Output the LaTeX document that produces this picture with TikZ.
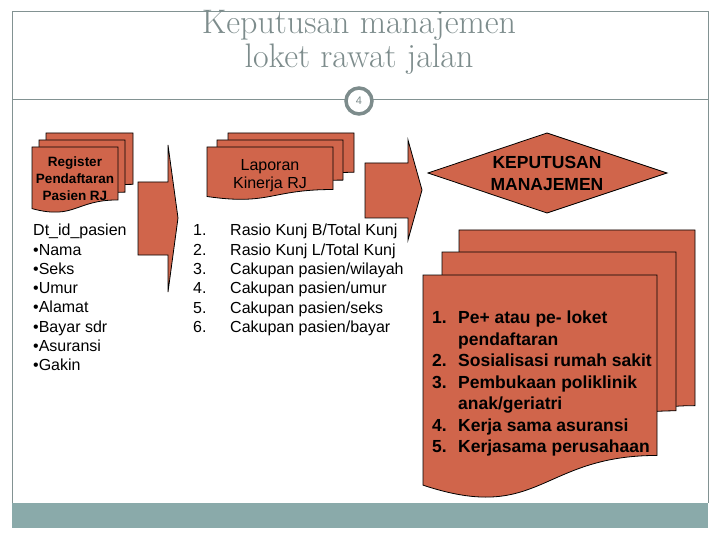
\documentclass[tikz,border=0pt]{standalone}
\usepackage{fontspec}
\setsansfont{Liberation Sans}
\usepackage{tikz}
\usetikzlibrary{arrows.meta}

\definecolor{docred}{RGB}{208,101,75}
\definecolor{titlegray}{RGB}{125,140,140}
\definecolor{framegray}{RGB}{130,146,146}
\definecolor{bargray}{RGB}{138,170,170}

% one page of a document shape: top left (#1,#2), width #3, height #4
\newcommand{\docpage}[4]{%
  \draw[docfill] (#1,#2) -- ({#1+#3},#2) -- ({#1+#3},{#2+0.802*#4})
    .. controls ({#1+0.5*#3},{#2+0.802*#4}) and ({#1+0.5*#3},{#2+1.107*#4}) .. ({#1},{#2+0.934*#4}) -- cycle;}

\tikzset{
  docfill/.style={fill=docred, draw=black, line width=0.8pt},
  blockarrow/.style={fill=docred, draw=black, line width=0.8pt, line join=miter},
  listtxt/.style={font=\sffamily\fontsize{16}{19}\selectfont, inner sep=0pt, anchor=base west},
  bigtxt/.style={font=\sffamily\bfseries\fontsize{17.5}{21}\selectfont, inner sep=0pt, anchor=base west}
}

\begin{document}
\begin{tikzpicture}[x=1pt, y=-1pt]
        \useasboundingbox (0,0) rectangle (720,540);

        % Frame and bottom bar
        \draw[framegray, line width=1pt] (12,503) -- (12,12) -- (708,12) -- (708,503);
        \fill[bargray] (12,503) rectangle (708,528);
        \draw[framegray, line width=1pt] (12,100) -- (708,100);

        % Title
        \node[font=\fontsize{34}{36}\selectfont, text=titlegray, anchor=base] (title1) at (359,34) {Keputusan manajemen};
        \node[font=\fontsize{34}{36}\selectfont, text=titlegray, anchor=base] (title2) at (359,68) {loket rawat jalan};

        % Page number
        \node[circle, draw=titlegray, line width=3.5pt, fill=white, minimum size=26pt, inner sep=0pt,
              text=titlegray, font=\sffamily\fontsize{11}{12}\selectfont] (pagenum) at (359,101) {4};

        % Register stack
        \docpage{46}{133}{87}{64}
        \docpage{39}{140}{86}{65}
        \docpage{32}{147}{86}{66}
        \node[align=center, font=\sffamily\bfseries\fontsize{13.5}{17}\selectfont] (register) at (75,179)
            {Register\\Pendaftaran\\Pasien RJ};

        % Data list
        \foreach \txt [count=\i from 0] in {Dt\_id\_pasien, •Nama, •Seks, •Umur, •Alamat, •Bayar sdr, •Asuransi, •Gakin}
            \node[listtxt] (dt\i) at (33,{236+19.2*\i}) {\txt};

        % Arrow 1
        \draw[blockarrow] (138,182) -- (168,182) -- (168,145) -- (178,218) -- (168,292) -- (168,255) -- (138,255) -- cycle;

        % Laporan stack
        \docpage{228}{133}{126}{49}
        \docpage{217}{140}{126}{50}
        \docpage{207}{147}{126}{53}
        \node[align=center, font=\sffamily\fontsize{16}{18}\selectfont] (laporan) at (270,176)
            {Laporan\\Kinerja RJ};

        % Indicator list
        \foreach \txt [count=\i from 1] in {Rasio Kunj B/Total Kunj, Rasio Kunj L/Total Kunj, Cakupan pasien/wilayah,
                Cakupan pasien/umur, Cakupan pasien/seks, Cakupan pasien/bayar} {
            \node[listtxt] (num\i) at (193,{216.7+19.3*\i}) {\i.};
            \node[listtxt] (ind\i) at (230,{216.7+19.3*\i}) {\txt};
        }

        % Arrow 2
        \draw[blockarrow] (365,163) -- (408,163) -- (408,140) -- (422,190) -- (408,240) -- (408,218) -- (365,218) -- cycle;

        % Decision
        \draw[docfill] (428,173) -- (547,133) -- (667,173) -- (547,213) -- cycle;
        \node[align=center, font=\sffamily\bfseries\fontsize{17.5}{22}\selectfont] (keputusan) at (547,173)
            {KEPUTUSAN\\MANAJEMEN};

        % Decision stack
        \docpage{459}{230}{236}{219}
        \docpage{442}{252}{234}{198}
        \docpage{423}{275}{234}{225}
        \node[bigtxt] (n1) at (432,323.5) {1.};
        \node[bigtxt] (t1) at (458,323.5) {Pe+ atau pe- loket};
        \node[bigtxt] (t1b) at (458,345) {pendaftaran};
        \node[bigtxt] (n2) at (432,366.5) {2.};
        \node[bigtxt] (t2) at (458,366.5) {Sosialisasi rumah sakit};
        \node[bigtxt] (n3) at (432,388) {3.};
        \node[bigtxt] (t3) at (458,388) {Pembukaan poliklinik};
        \node[bigtxt] (t3b) at (458,409.5) {anak/geriatri};
        \node[bigtxt] (n4) at (432,431) {4.};
        \node[bigtxt] (t4) at (458,431) {Kerja sama asuransi};
        \node[bigtxt] (n5) at (432,452.5) {5.};
        \node[bigtxt] (t5) at (458,452.5) {Kerjasama perusahaan};
    \end{tikzpicture}
\end{document}
